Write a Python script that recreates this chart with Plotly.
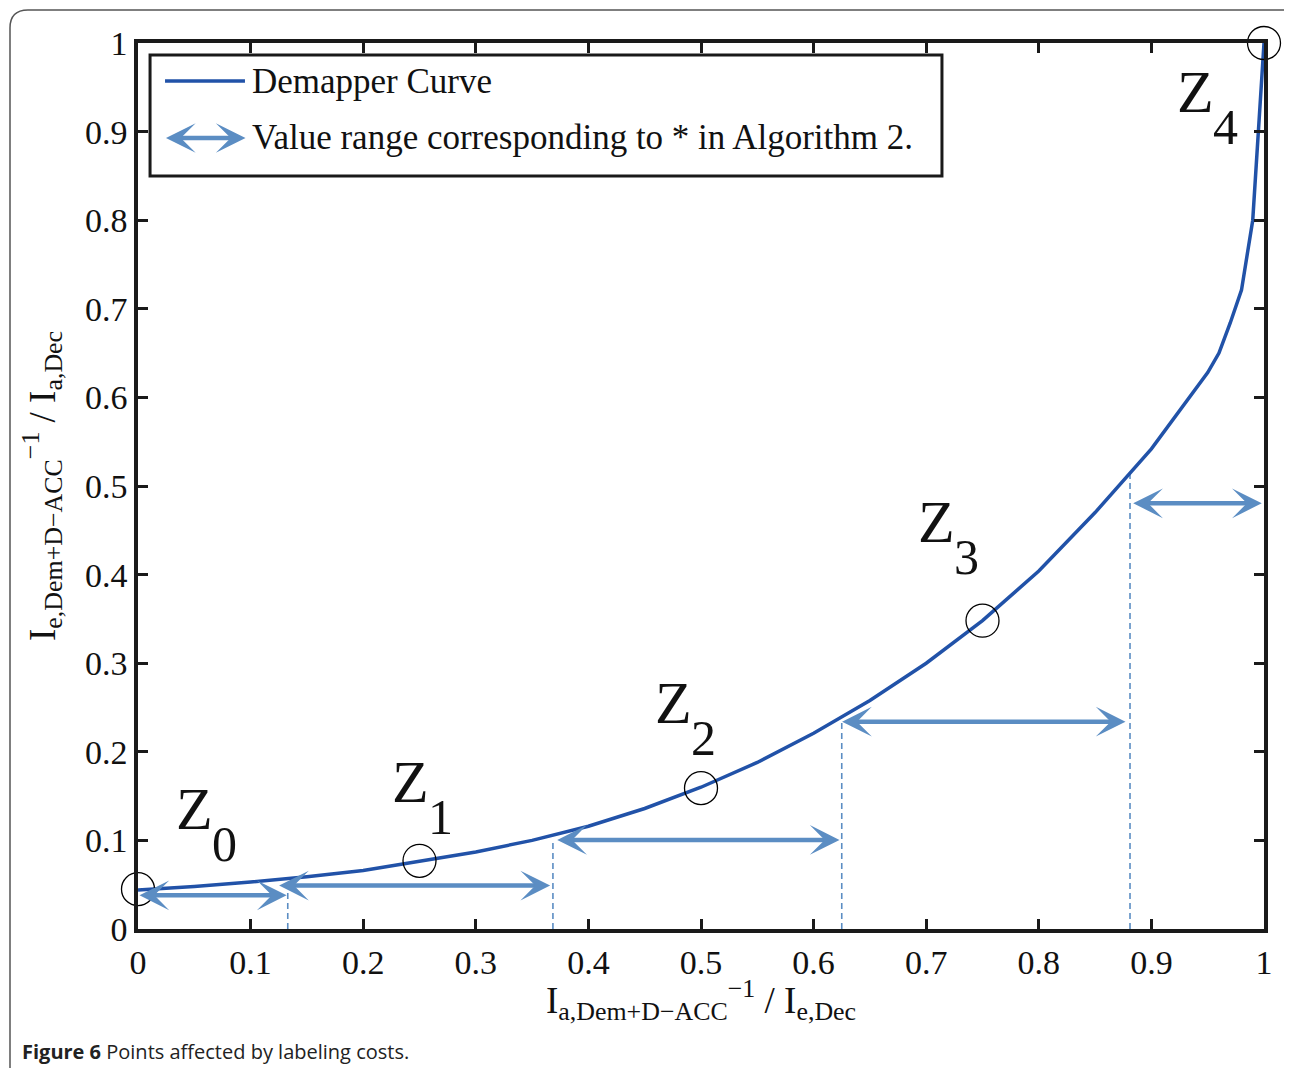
import plotly.graph_objects as go

# ---------------- data ----------------
curve_x = [0, 0.05, 0.1, 0.15, 0.2, 0.25, 0.3, 0.35, 0.4, 0.45, 0.5, 0.55, 0.6,
           0.65, 0.7, 0.75, 0.8, 0.85, 0.9, 0.95, 0.96, 0.97, 0.98, 0.99, 1.0]
curve_y = [0.044, 0.048, 0.053, 0.059, 0.066, 0.076, 0.087, 0.100, 0.116, 0.136,
           0.160, 0.188, 0.221, 0.258, 0.300, 0.348, 0.404, 0.470, 0.542, 0.628,
           0.650, 0.684, 0.721, 0.800, 1.0]

point_x = [0, 0.25, 0.5, 0.75, 1.0]
point_y = [0.045, 0.077, 0.159, 0.348, 1.0]
point_names = ["0", "1", "2", "3", "4"]
label_x = [0.0506, 0.2416, 0.4760, 0.7087, 0.9396]
label_y = [0.1354, 0.1659, 0.2551, 0.4594, 0.9447]

range_start = [0.0, 0.124, 0.371, 0.624, 0.8825]
range_end = [0.132, 0.366, 0.623, 0.877, 0.998]
range_y = [0.038, 0.049, 0.1005, 0.234, 0.4805]

boundary_x = [0.133, 0.3685, 0.625, 0.881]
boundary_top = [0.046, 0.100, 0.234, 0.518]

tick_vals = [0, 0.1, 0.2, 0.3, 0.4, 0.5, 0.6, 0.7, 0.8, 0.9, 1]
tick_text = ["0", "0.1", "0.2", "0.3", "0.4", "0.5", "0.6", "0.7", "0.8", "0.9", "1"]

# ---------------- style ----------------
SERIF = "Liberation Serif, Times New Roman, serif"
CURVE_COLOR = "#2152a8"
ARROW_COLOR = "#5b8dc3"
TEXT_COLOR = "#111"

fig = go.Figure()

# dashed boundary lines
for bx, bt in zip(boundary_x, boundary_top):
    fig.add_trace(go.Scatter(x=[bx, bx], y=[0, bt], mode="lines",
                             line=dict(color=ARROW_COLOR, width=1.6, dash="6px,4px"),
                             showlegend=False, hoverinfo="skip"))

fig.add_trace(go.Scatter(x=curve_x, y=curve_y, mode="lines",
                         line=dict(color=CURVE_COLOR, width=3.5),
                         showlegend=False, name="Demapper Curve"))

fig.add_trace(go.Scatter(x=point_x, y=point_y, mode="markers",
                         marker=dict(symbol="circle-open", size=33,
                                     color="black", line=dict(width=1.3, color="black")),
                         cliponaxis=False, showlegend=False, hoverinfo="skip"))

annotations = []
# range arrows
for s, e, yv in zip(range_start, range_end, range_y):
    annotations.append(dict(x=e, y=yv, ax=s, ay=yv, xref="x", yref="y",
                            axref="x", ayref="y", text="", showarrow=True,
                            arrowhead=3, startarrowhead=3, arrowside="end+start",
                            arrowsize=1.1, startarrowsize=1.1,
                            arrowwidth=4.5, arrowcolor=ARROW_COLOR,
                            standoff=0, startstandoff=0))

# Z labels
for lx, ly, nm in zip(label_x, label_y, point_names):
    annotations.append(dict(x=lx, y=ly, xref="x", yref="y", text="Z",
                            showarrow=False, xanchor="center", yanchor="middle",
                            font=dict(family=SERIF, size=60, color=TEXT_COLOR)))
    annotations.append(dict(x=lx, y=ly, xref="x", yref="y", text=nm,
                            showarrow=False, xanchor="center", yanchor="middle",
                            xshift=30, yshift=-35,
                            font=dict(family=SERIF, size=50, color=TEXT_COLOR)))

# custom legend
annotations.append(dict(x=0.0995, y=0.9571, xref="x domain", yref="y domain",
                        text="Demapper Curve", showarrow=False,
                        xanchor="left", yanchor="middle",
                        font=dict(family=SERIF, size=35, color=TEXT_COLOR)))
annotations.append(dict(x=0.0995, y=0.8928, xref="x domain", yref="y domain",
                        text="Value range corresponding to * in Algorithm 2.",
                        showarrow=False, xanchor="left", yanchor="middle",
                        font=dict(family=SERIF, size=35, color=TEXT_COLOR)))
annotations.append(dict(x=0.0955, y=0.8928, ax=0.0235, ay=0.8928,
                        xref="x domain", yref="y domain",
                        axref="x domain", ayref="y domain", text="", showarrow=True,
                        arrowhead=3, startarrowhead=3, arrowside="end+start",
                        arrowsize=1.1, startarrowsize=1.1,
                        arrowwidth=4.5, arrowcolor=ARROW_COLOR,
                        standoff=0, startstandoff=0))

# axis titles
annotations.append(dict(x=0.5, y=-0.048, xref="paper", yref="paper",
                        text="I<sub>a,Dem+D\u2212ACC</sub><sup>\u22121</sup> / I<sub>e,Dec</sub>",
                        showarrow=False, xanchor="center", yanchor="top",
                        font=dict(family=SERIF, size=37, color=TEXT_COLOR)))
annotations.append(dict(x=-0.0604, y=0.5, xref="paper", yref="paper",
                        text="I<sub>e,Dem+D\u2212ACC</sub><sup>\u22121</sup> / I<sub>a,Dec</sub>",
                        textangle=-90,
                        showarrow=False, xanchor="right", yanchor="middle",
                        font=dict(family=SERIF, size=37, color=TEXT_COLOR)))

# caption
annotations.append(dict(x=-0.1048, y=-0.1388, xref="paper", yref="paper",
                        text="<b>Figure 6</b> Points affected by labeling costs.",
                        showarrow=False, xanchor="left", yanchor="middle",
                        font=dict(family="Open Sans, Noto Sans, sans-serif", size=20,
                                  color="#222")))

shapes = [
    # legend box
    dict(type="rect", xref="x domain", yref="y domain",
         x0=0.0107, x1=0.7140, y0=0.8499, y1=0.9865,
         line=dict(color="#1a1a1a", width=3), fillcolor="white", layer="above"),
    # legend line sample
    dict(type="line", xref="x domain", yref="y domain",
         x0=0.0240, x1=0.0950, y0=0.9571, y1=0.9571,
         line=dict(color=CURVE_COLOR, width=3.5), layer="above"),
    # outer figure frame (rounded top-left corner)
    dict(type="path", xref="paper", yref="paper",
         path="M -0.11368,-0.20 L -0.11368,1.0170 Q -0.11368,1.03725 -0.0977,1.03725 L 1.05,1.03725",
         line=dict(color="#555", width=1.5)),
]

# the page body adds an 8px offset, so the figure is 8px smaller on each side
fig.update_layout(
    width=1284, height=1060,
    margin=dict(l=130, r=28, t=35, b=139, autoexpand=False),
    paper_bgcolor="white", plot_bgcolor="white",
    showlegend=False,
    annotations=annotations,
    shapes=shapes,
    font=dict(family=SERIF, size=34, color=TEXT_COLOR),
)

axis_common = dict(
    range=[0, 1], showgrid=False, zeroline=False,
    showline=True, linecolor="#1a1a1a", linewidth=3.5, mirror="ticks",
    ticks="inside", ticklen=10, tickwidth=3, tickcolor="#1a1a1a",
    tickvals=tick_vals, ticktext=tick_text,
    tickfont=dict(family=SERIF, size=34, color=TEXT_COLOR),
    automargin=False,
)

fig.update_xaxes(**axis_common)
fig.update_yaxes(**axis_common)

fig.write_html("out.html")
